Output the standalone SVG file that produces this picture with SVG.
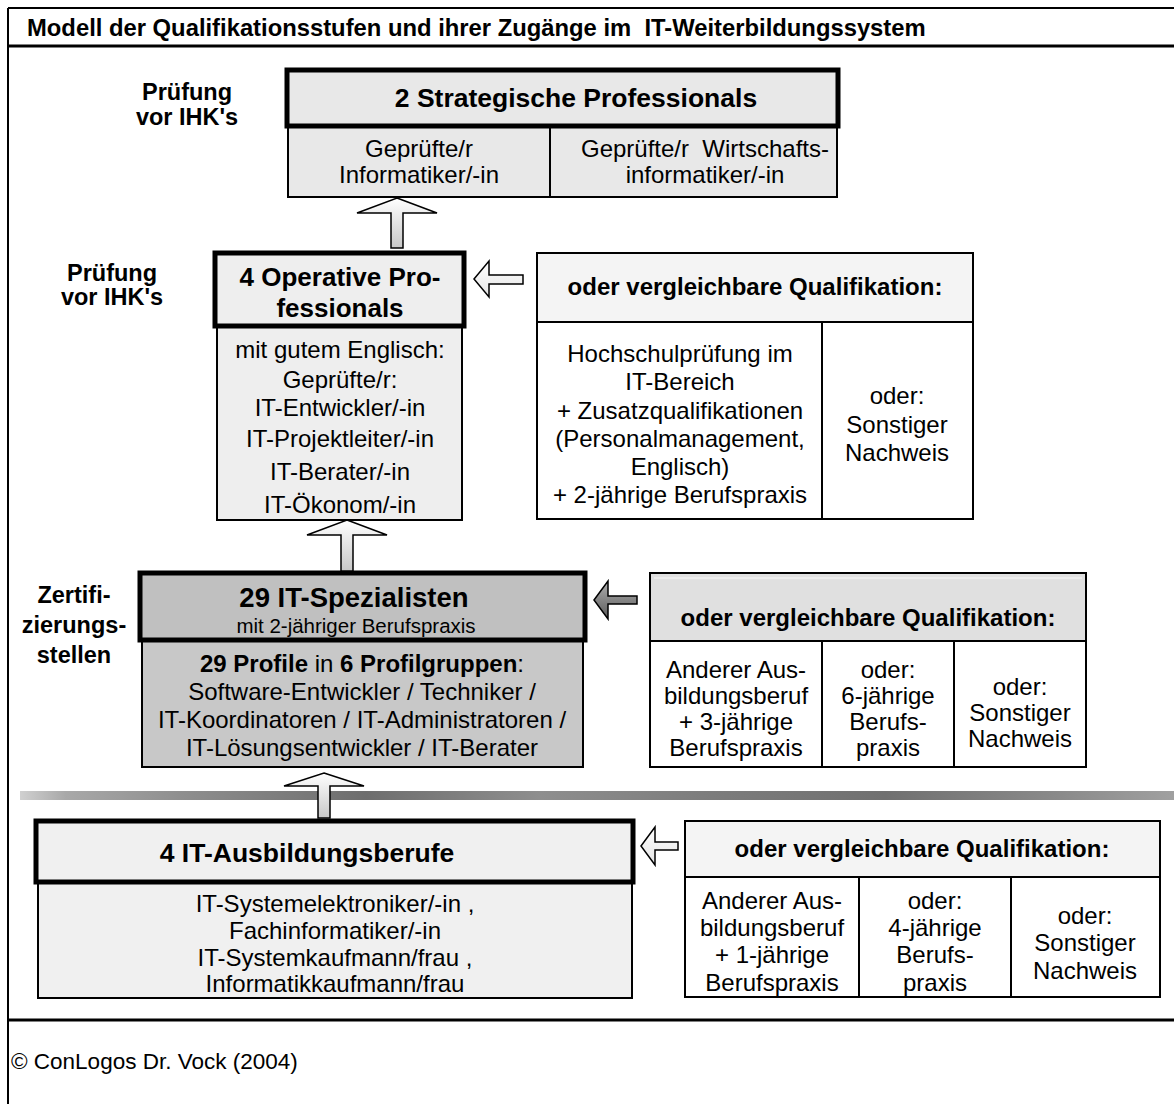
<svg xmlns="http://www.w3.org/2000/svg" width="1174" height="1104" viewBox="0 0 1174 1104">
<defs>
<style>
text{font-family:"Liberation Sans",Arial,Helvetica,sans-serif;fill:#000}
.c{text-anchor:middle}
.r{font-size:24px}
.b{font-weight:bold}
.h{font-size:26px;font-weight:bold}
.q{font-size:24px;font-weight:bold}
.lab{font-size:23.5px;font-weight:bold;text-anchor:middle}
.thick{stroke:#000;stroke-width:5}
.thin{stroke:#000;stroke-width:2}
.line{stroke:#000;stroke-width:2;fill:none}
.arr{stroke:#000;stroke-width:1.5;stroke-linejoin:miter}
</style>
<linearGradient id="gUp" x1="0" y1="0" x2="0" y2="1">
<stop offset="0" stop-color="#ffffff"/>
<stop offset="1" stop-color="#c8c8c8"/>
</linearGradient>
<linearGradient id="gLeft" x1="0" y1="0" x2="0" y2="1">
<stop offset="0" stop-color="#ffffff"/>
<stop offset="1" stop-color="#e4e4e4"/>
</linearGradient>
<linearGradient id="gGray" x1="0" y1="0" x2="0" y2="1">
<stop offset="0" stop-color="#b0b0b0"/>
<stop offset="1" stop-color="#5a5a5a"/>
</linearGradient>
<linearGradient id="gBar" x1="0" y1="0" x2="1" y2="0">
<stop offset="0" stop-color="#d0d0d0"/>
<stop offset="0.04" stop-color="#a8a8a8"/>
<stop offset="0.15" stop-color="#8c8c8c"/>
<stop offset="0.3" stop-color="#6e6e6e"/>
<stop offset="0.45" stop-color="#8e8e8e"/>
<stop offset="0.6" stop-color="#7c7c7c"/>
<stop offset="0.75" stop-color="#707070"/>
<stop offset="0.9" stop-color="#8a8a8a"/>
<stop offset="1" stop-color="#a0a0a0"/>
</linearGradient>
</defs>

<rect x="0" y="0" width="1174" height="1104" fill="#fff"/>

<g id="frame">
<line x1="8" y1="8" x2="1174" y2="8" class="line"/>
<line x1="8" y1="8" x2="8" y2="1104" class="line"/>
<line x1="8" y1="46" x2="1174" y2="46" stroke="#000" stroke-width="3"/>
<line x1="8" y1="1020" x2="1174" y2="1020" stroke="#000" stroke-width="3"/>
<rect x="20" y="791" width="1154" height="9" fill="url(#gBar)"/>
</g>

<g id="title">
<text x="27" y="36" class="b" font-size="23.8" xml:space="preserve">Modell der Qualifikationsstufen und ihrer Zugänge im  IT-Weiterbildungssystem</text>
</g>

<g id="labels">
<text x="187" y="100" class="lab">Prüfung</text>
<text x="187" y="125" class="lab">vor IHK's</text>
<text x="112" y="281" class="lab">Prüfung</text>
<text x="112" y="305" class="lab">vor IHK's</text>
<text x="74" y="603" class="lab">Zertifi-</text>
<text x="74" y="633" class="lab">zierungs-</text>
<text x="74" y="663" class="lab">stellen</text>
</g>

<g id="strategic">
<rect x="288" y="126" width="549" height="71" fill="#e8e8e8" class="thin"/>
<line x1="550" y1="126" x2="550" y2="197" class="line"/>
<rect x="287" y="70" width="551" height="56" fill="#e8e8e8" class="thick"/>
<text x="576" y="107" class="c b" font-size="26.5">2 Strategische Professionals</text>
<text x="419" y="157" class="r c">Geprüfte/r</text>
<text x="419" y="183" class="r c">Informatiker/-in</text>
<text x="705" y="157" class="r c" xml:space="preserve">Geprüfte/r  Wirtschafts-</text>
<text x="705" y="183" class="r c">informatiker/-in</text>
</g>

<g id="operative">
<rect x="217" y="326" width="245" height="194" fill="#eeeeee" class="thin"/>
<rect x="215" y="253" width="249" height="73" fill="#eeeeee" class="thick"/>
<text x="340" y="286" class="h c">4 Operative Pro-</text>
<text x="340" y="317" class="h c">fessionals</text>
<text x="340" y="358" class="r c">mit gutem Englisch:</text>
<text x="340" y="388" class="r c">Geprüfte/r:</text>
<text x="340" y="416" class="r c">IT-Entwickler/-in</text>
<text x="340" y="447" class="r c">IT-Projektleiter/-in</text>
<text x="340" y="480" class="r c">IT-Berater/-in</text>
<text x="340" y="513" class="r c">IT-Ökonom/-in</text>
</g>

<g id="alt-operative">
<rect x="537" y="253" width="436" height="69" fill="#f4f4f4" class="thin"/>
<rect x="537" y="322" width="436" height="197" fill="#ffffff" class="thin"/>
<line x1="822" y1="322" x2="822" y2="519" class="line"/>
<text x="755" y="295" class="q c">oder vergleichbare Qualifikation:</text>
<text x="680" y="362" class="r c">Hochschulprüfung im</text>
<text x="680" y="390" class="r c">IT-Bereich</text>
<text x="680" y="419" class="r c">+ Zusatzqualifikationen</text>
<text x="680" y="447" class="r c">(Personalmanagement,</text>
<text x="680" y="475" class="r c">Englisch)</text>
<text x="680" y="503" class="r c">+ 2-jährige Berufspraxis</text>
<text x="897" y="404" class="r c">oder:</text>
<text x="897" y="433" class="r c">Sonstiger</text>
<text x="897" y="461" class="r c">Nachweis</text>
</g>

<g id="specialists">
<rect x="142" y="640" width="441" height="127" fill="#c8c8c8" class="thin"/>
<rect x="140" y="573" width="445" height="67" fill="#c0c0c0" class="thick"/>
<text x="354" y="607" class="c b" font-size="27.5">29 IT-Spezialisten</text>
<text x="356" y="633" class="c" font-size="20.5">mit 2-jähriger Berufspraxis</text>
<text x="362" y="672" class="r c"><tspan class="b">29 Profile</tspan> in <tspan class="b">6 Profilgruppen</tspan>:</text>
<text x="362" y="700" class="r c">Software-Entwickler / Techniker /</text>
<text x="362" y="728" class="r c">IT-Koordinatoren / IT-Administratoren /</text>
<text x="362" y="756" class="r c">IT-Lösungsentwickler / IT-Berater</text>
</g>

<g id="alt-specialists">
<rect x="650" y="573" width="436" height="68" fill="#e0e0e0" class="thin"/>
<line x1="654" y1="578" x2="1082" y2="578" stroke="#f0f0f0" stroke-width="1.5"/>
<rect x="650" y="641" width="436" height="126" fill="#ffffff" class="thin"/>
<line x1="822" y1="641" x2="822" y2="767" class="line"/>
<line x1="954" y1="641" x2="954" y2="767" class="line"/>
<text x="868" y="626" class="q c">oder vergleichbare Qualifikation:</text>
<text x="736" y="678" class="r c">Anderer Aus-</text>
<text x="736" y="704" class="r c">bildungsberuf</text>
<text x="736" y="730" class="r c">+ 3-jährige</text>
<text x="736" y="756" class="r c">Berufspraxis</text>
<text x="888" y="678" class="r c">oder:</text>
<text x="888" y="704" class="r c">6-jährige</text>
<text x="888" y="730" class="r c">Berufs-</text>
<text x="888" y="756" class="r c">praxis</text>
<text x="1020" y="695" class="r c">oder:</text>
<text x="1020" y="721" class="r c">Sonstiger</text>
<text x="1020" y="747" class="r c">Nachweis</text>
</g>

<g id="apprenticeships">
<rect x="38" y="882" width="594" height="116" fill="#f0f0f0" class="thin"/>
<rect x="36" y="821" width="597" height="61" fill="#f0f0f0" class="thick"/>
<text x="307" y="862" class="c b" font-size="26.5">4 IT-Ausbildungsberufe</text>
<text x="335" y="912" class="r c">IT-Systemelektroniker/-in ,</text>
<text x="335" y="939" class="r c">Fachinformatiker/-in</text>
<text x="335" y="966" class="r c">IT-Systemkaufmann/frau ,</text>
<text x="335" y="992" class="r c">Informatikkaufmann/frau</text>
</g>

<g id="alt-apprenticeships">
<rect x="685" y="821" width="475" height="56" fill="#f4f4f4" class="thin"/>
<rect x="685" y="877" width="475" height="120" fill="#ffffff" class="thin"/>
<line x1="859" y1="877" x2="859" y2="997" class="line"/>
<line x1="1011" y1="877" x2="1011" y2="997" class="line"/>
<text x="922" y="857" class="q c">oder vergleichbare Qualifikation:</text>
<text x="772" y="909" class="r c">Anderer Aus-</text>
<text x="772" y="936" class="r c">bildungsberuf</text>
<text x="772" y="963" class="r c">+ 1-jährige</text>
<text x="772" y="991" class="r c">Berufspraxis</text>
<text x="935" y="909" class="r c">oder:</text>
<text x="935" y="936" class="r c">4-jährige</text>
<text x="935" y="963" class="r c">Berufs-</text>
<text x="935" y="991" class="r c">praxis</text>
<text x="1085" y="924" class="r c">oder:</text>
<text x="1085" y="951" class="r c">Sonstiger</text>
<text x="1085" y="979" class="r c">Nachweis</text>
</g>

<g id="footer">
<text x="11" y="1069" font-size="22.5">© ConLogos Dr. Vock (2004)</text>
</g>

<g id="connectors">
<polygon class="arr" fill="url(#gUp)" points="397,198 437,213 403,213 403,248 391,248 391,213 357,213"/>
<polygon class="arr" fill="url(#gUp)" points="347,520 387,535 353,535 353,571 341,571 341,535 307,535"/>
<polygon class="arr" fill="url(#gUp)" points="324,773 364,786 330,786 330,818 318,818 318,786 284,786"/>
<polygon class="arr" fill="url(#gLeft)" points="474,279 489,261 489,275 523,275 523,284 489,284 489,297"/>
<polygon class="arr" fill="url(#gGray)" points="594,600 608,581 608,596 637,596 637,604 608,604 608,619"/>
<polygon class="arr" fill="url(#gLeft)" points="641,846 655,827 655,842 678,842 678,850 655,850 655,865"/>
</g>
</svg>
